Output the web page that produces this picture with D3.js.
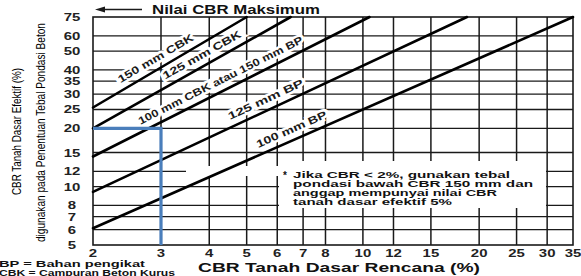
<!DOCTYPE html>
<html><head><meta charset="utf-8">
<script src="https://cdn.jsdelivr.net/npm/d3@7"></script>
<style>body{margin:0;background:#fff}svg{display:block}</style>
</head><body><svg id="c" width="581" height="276"></svg>
<script>
// ---- data ----
const xTicks = [2,3,4,5,6,7,8,10,12,15,20,25,30,35];
const yTicks = [5,6,7,8,10,12,15,20,25,30,35,40,50,60,75];
const seriesNames = ["150 mm CBK","125 mm CBK","100 mm CBK atau 150 mm BP","125 mm BP","100 mm BP"];
const seriesStartX = [2,2,2,2,2];
const seriesStartY = [25.6,20,14.3,9.4,6.1];
const seriesEndX = [5.0,6.5,10.4,18.6,35];
const seriesEndY = [75,75,75,75,75];
const labelAtX = [3.0,3.95,4.4,5.75,6.7];
const exampleX = [3,3,2];
const exampleY = [5,20,20];
const noteLines = ["Jika CBR < 2%, gunakan tebal","pondasi bawah CBR 150 mm dan","anggap mempunyai nilai CBR","tanah dasar efektif 5%"];

// ---- layout ----
const L = 93, R = 573, T = 17, B = 245;
const svg = d3.select("#c");
const x = d3.scaleLog().domain([2,35]).range([L,R]);
const y = d3.scaleLog().domain([5,75]).range([B,T]);
const ink = "#1a1a1a";
const font = "'Liberation Sans', Arial, sans-serif";

// grid
const g = svg.append("g");
g.selectAll(".hy").data(yTicks.slice(1,-1)).enter().append("line")
  .attr("x1",L).attr("x2",R).attr("y1",d=>y(d)).attr("y2",d=>y(d))
  .attr("stroke",ink).attr("stroke-width",1.3);
g.selectAll(".vx").data(xTicks.slice(1,-1)).enter().append("line")
  .attr("y1",T).attr("y2",B).attr("x1",d=>x(d)).attr("x2",d=>x(d))
  .attr("stroke",ink).attr("stroke-width",1.5);

// white mask for note
svg.append("rect").attr("x",279).attr("y",161).attr("width",267).attr("height",47).attr("fill","#fff");
svg.append("rect").attr("x",186).attr("y",166).attr("width",94).attr("height",10).attr("fill","#fff");

// frame
svg.append("rect").attr("x",L).attr("y",T).attr("width",R-L).attr("height",B-T)
  .attr("fill","none").attr("stroke",ink).attr("stroke-width",1.6);

// series helpers
function valAt(i, xv){
  const s = Math.log(seriesEndY[i]/seriesStartY[i])/Math.log(seriesEndX[i]/seriesStartX[i]);
  return seriesStartY[i]*Math.pow(xv/seriesStartX[i], s);
}
// labels (with white halo cutting grid)
const lab = svg.append("g");
const labelLen = [86,88,183,82,76];
seriesNames.forEach((name,i)=>{
  const xv = labelAtX[i];
  const px = x(xv), py = y(valAt(i,xv));
  const px2 = x(xv*1.1), py2 = y(valAt(i,xv*1.1));
  const ang = Math.atan2(py2-py, px2-px);
  const d = 7;
  const cx = px + Math.sin(ang)*d, cy = py - Math.cos(ang)*d;
  lab.append("text").attr("transform",`translate(${cx},${cy}) rotate(${ang*180/Math.PI})`)
    .attr("text-anchor","middle").attr("font-family",font).attr("font-weight","bold")
    .attr("font-size",10.5).attr("fill",ink)
    .attr("textLength",labelLen[i]).attr("lengthAdjust","spacingAndGlyphs")
    .attr("stroke","#fff").attr("stroke-width",5).attr("paint-order","stroke")
    .text(name);
});

// series lines
seriesNames.forEach((name,i)=>{
  svg.append("line")
    .attr("x1",x(seriesStartX[i])).attr("y1",y(seriesStartY[i]))
    .attr("x2",x(seriesEndX[i])).attr("y2",y(seriesEndY[i]))
    .attr("stroke","#000").attr("stroke-width",2.6).attr("stroke-linecap","round");
});

// example (blue)
svg.append("path")
  .attr("d", d3.line().x((d,k)=>x(exampleX[k])).y((d,k)=>y(exampleY[k]))(exampleX))
  .attr("fill","none").attr("stroke","#4a7ebb").attr("stroke-width",3.2);

// y tick labels
svg.selectAll(".yl").data(yTicks).enter().append("text")
  .attr("x",72).attr("y",d=>y(d)+4).attr("text-anchor","middle")
  .attr("font-family",font).attr("font-weight","bold").attr("font-size",11).attr("fill","#222")
  .attr("textLength",d=>String(d).length*8.3).attr("lengthAdjust","spacingAndGlyphs")
  .text(d=>d);
// x tick labels
svg.selectAll(".xl").data(xTicks).enter().append("text")
  .attr("x",d=>x(d)).attr("y",257).attr("text-anchor","middle")
  .attr("font-family",font).attr("font-weight","bold").attr("font-size",11).attr("fill","#222")
  .attr("textLength",d=>String(d).length*8.3).attr("lengthAdjust","spacingAndGlyphs")
  .text(d=>d);

// axis titles
svg.append("text").attr("x",198).attr("y",272).attr("font-family",font).attr("font-weight","bold")
  .attr("font-size",13.5).attr("fill","#111").attr("textLength",282).attr("lengthAdjust","spacingAndGlyphs")
  .text("CBR Tanah Dasar Rencana (%)");
svg.append("text").attr("transform","translate(21,131.5) rotate(-90)").attr("text-anchor","middle")
  .attr("font-family",font).attr("font-size",13).attr("fill","#000")
  .attr("textLength",127).attr("lengthAdjust","spacingAndGlyphs")
  .text("CBR Tanah Dasar Efektif (%)");
svg.append("text").attr("transform","translate(45,132.5) rotate(-90)").attr("text-anchor","middle")
  .attr("font-family",font).attr("font-size",13).attr("fill","#000")
  .attr("textLength",219).attr("lengthAdjust","spacingAndGlyphs")
  .text("digunakan pada Penentuan Tebal Pondasi Beton");

// top heading with arrow
svg.append("line").attr("x1",103).attr("x2",142).attr("y1",9.5).attr("y2",9.5)
  .attr("stroke",ink).attr("stroke-width",1.6);
svg.append("path").attr("d","M95,9.5 L105,6.5 L105,12.5 Z").attr("fill",ink);
svg.append("text").attr("x",152).attr("y",14).attr("font-family",font).attr("font-weight","bold")
  .attr("font-size",12).attr("fill","#111").attr("textLength",168).attr("lengthAdjust","spacingAndGlyphs")
  .text("Nilai CBR Maksimum");

// note
svg.append("text").attr("x",283).attr("y",179).attr("font-family",font).attr("font-weight","bold")
  .attr("font-size",10).attr("fill","#111").text("*");
const noteLen = [217,240,204,159];
noteLines.forEach((t,k)=>{
  svg.append("text").attr("x",293).attr("y",177.5+k*9.3).attr("font-family",font).attr("font-weight","bold")
    .attr("font-size",9).attr("fill","#111").attr("textLength",noteLen[k]).attr("lengthAdjust","spacingAndGlyphs")
    .text(t);
});

// legend
svg.append("text").attr("x",-1).attr("y",266.5).attr("font-family",font).attr("font-weight","bold")
  .attr("font-size",9).attr("fill","#111").attr("textLength",146).attr("lengthAdjust","spacingAndGlyphs")
  .text("BP = Bahan pengikat");
svg.append("text").attr("x",-1).attr("y",275.5).attr("font-family",font).attr("font-weight","bold")
  .attr("font-size",9).attr("fill","#111").attr("textLength",176).attr("lengthAdjust","spacingAndGlyphs")
  .text("CBK = Campuran Beton Kurus");
</script></body></html>
